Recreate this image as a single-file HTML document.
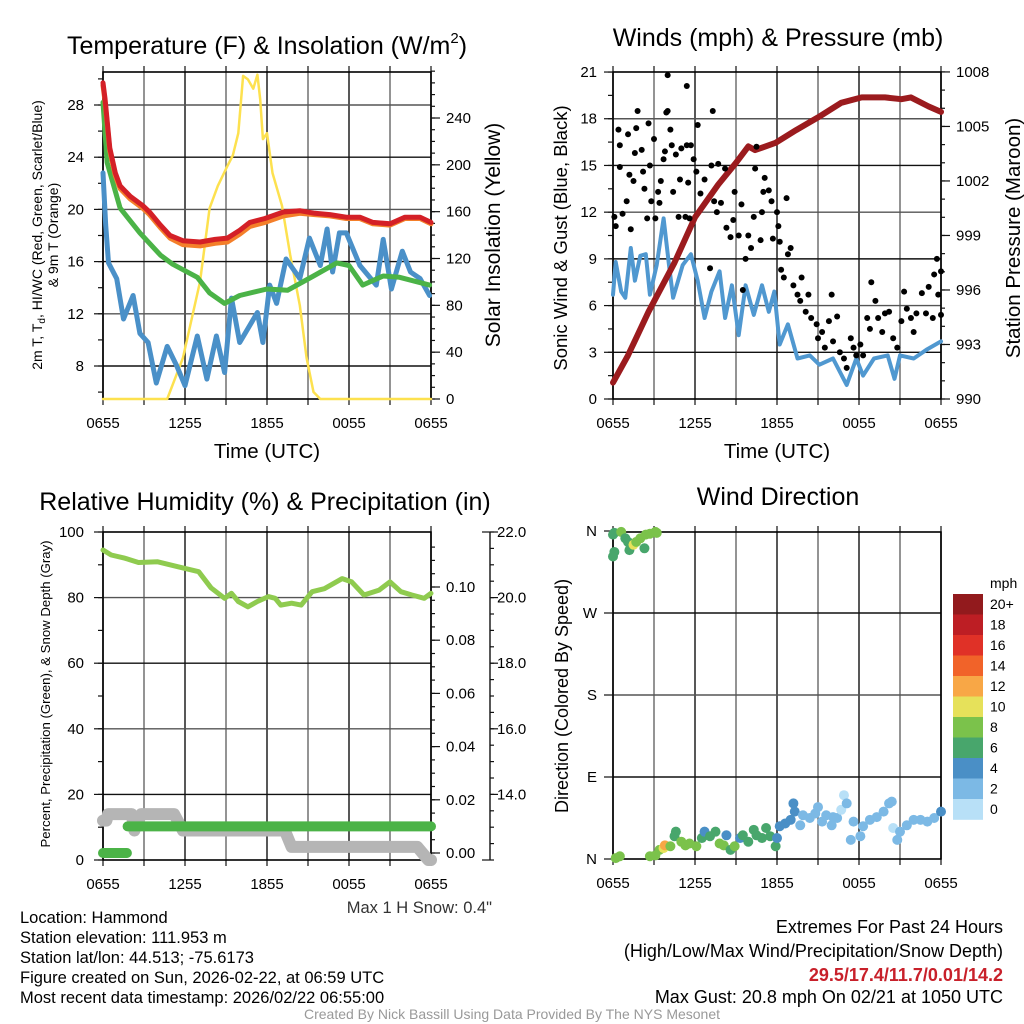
<!DOCTYPE html>
<html><head><meta charset="utf-8"><title>NYS Mesonet Meteogram - Hammond</title>
<style>
html,body{margin:0;padding:0;background:#fff;}
body{width:1024px;height:1024px;overflow:hidden;}
svg{display:block;font-family:"Liberation Sans",Arial,sans-serif;}
</style></head>
<body>
<svg id="fig" width="1024" height="1024" viewBox="0 0 1024 1024" xmlns="http://www.w3.org/2000/svg">
<rect x="0" y="0" width="1024" height="1024" fill="#fff"/>
<g id="layers"></g>

<!-- Panel 1 text -->
<text x="267" y="54" font-size="25" text-anchor="middle">Temperature (F) &amp; Insolation (W/m<tspan font-size="15" dy="-11">2</tspan><tspan dy="11">)</tspan></text>
<text x="267" y="458" font-size="20.5" text-anchor="middle">Time (UTC)</text>
<text transform="translate(42,235) rotate(-90)" font-size="14" text-anchor="middle">2m T, T<tspan font-size="10" dy="3">d</tspan><tspan dy="-3">, HI/WC (Red, Green, Scarlet/Blue)</tspan></text>
<text transform="translate(58,235) rotate(-90)" font-size="14" text-anchor="middle">&amp; 9m T (Orange)</text>
<text transform="translate(500,235) rotate(-90)" font-size="21" text-anchor="middle">Solar Insolation (Yellow)</text>

<!-- Panel 2 text -->
<text x="778" y="46" font-size="25" text-anchor="middle">Winds (mph) &amp; Pressure (mb)</text>
<text x="777" y="458" font-size="20.5" text-anchor="middle">Time (UTC)</text>
<text transform="translate(567,238) rotate(-90)" font-size="18.5" text-anchor="middle">Sonic Wind &amp; Gust (Blue, Black)</text>
<text transform="translate(1020,238) rotate(-90)" font-size="20.5" text-anchor="middle">Station Pressure (Maroon)</text>

<!-- Panel 3 text -->
<text x="265" y="510" font-size="25" text-anchor="middle">Relative Humidity (%) &amp; Precipitation (in)</text>
<text transform="translate(50,694) rotate(-90)" font-size="13.2" text-anchor="middle">Percent, Precipitation (Green), &amp; Snow Depth (Gray)</text>
<text x="492" y="913" font-size="16.5" text-anchor="end" fill="#333">Max 1 H Snow: 0.4"</text>

<!-- Panel 4 text -->
<text x="778" y="505" font-size="25" text-anchor="middle">Wind Direction</text>
<text transform="translate(568,696) rotate(-90)" font-size="18" text-anchor="middle">Direction (Colored By Speed)</text>
<text x="990" y="588" font-size="14">mph</text>

<!-- Footer -->
<g font-size="16.5">
<text x="20" y="923">Location: Hammond</text>
<text x="20" y="943">Station elevation: 111.953 m</text>
<text x="20" y="963">Station lat/lon: 44.513; -75.6173</text>
<text x="20" y="983">Figure created on Sun, 2026-02-22, at 06:59 UTC</text>
<text x="20" y="1003">Most recent data timestamp: 2026/02/22 06:55:00</text>
</g>
<g font-size="18" text-anchor="end">
<text x="1003" y="933">Extremes For Past 24 Hours</text>
<text x="1003" y="957">(High/Low/Max Wind/Precipitation/Snow Depth)</text>
<text x="1003" y="981" font-weight="bold" fill="#c8202a">29.5/17.4/11.7/0.01/14.2</text>
<text x="1003" y="1003">Max Gust: 20.8 mph On 02/21 at 1050 UTC</text>
</g>
<text x="512" y="1019" font-size="14" text-anchor="middle" fill="#999">Created By Nick Bassill Using Data Provided By The NYS Mesonet</text>
</svg>

<script>
// ===== Data =====
const timeLabels = ['0655','1255','1855','0055','0655'];
// Panel 1: temperatures (F) vs hours since 0655
const tH   = [0,0.15,0.5,0.9,1.25,2,2.9,3.4,4.2,4.9,5.85,7.1,8.2,9.1,10,10.75,11.85,13.2,14.4,15.5,16.6,17.8,18.8,19.75,21,22.1,23.2,24];
const tRed = [29.7,28.5,24.7,22.8,21.8,21.0,20.3,19.8,18.8,18.0,17.6,17.5,17.7,17.8,18.4,19.0,19.3,19.8,19.9,19.7,19.6,19.4,19.4,19.0,18.9,19.4,19.4,19.0];
const tOrg = [29.5,28.3,24.5,22.6,21.6,20.8,20.1,19.6,18.6,17.8,17.3,17.2,17.4,17.5,18.1,18.7,19.0,19.5,19.7,19.6,19.5,19.3,19.3,18.9,18.8,19.3,19.3,18.9];
const tdH  = [0,0.3,1.25,2.7,4.2,5.1,6.9,7.8,8.9,10,12,13.5,15.4,17.1,18,19,20.5,21.7,23.9];
const tdV  = [28.2,23.6,20.1,18.2,16.5,15.8,14.8,13.6,12.8,13.4,13.9,13.8,14.9,15.9,15.7,14.2,14.9,14.8,14.2];
const wcH  = [0,0.2,0.4,1,1.5,2.2,2.7,3.3,3.9,4.7,5.4,6,6.9,7.6,8.3,8.9,9.4,10,11.3,11.7,12.2,12.7,13.4,14.4,15.1,15.9,16.4,16.8,17.3,17.8,18.8,20,20.5,21.1,21.9,22.5,23.2,23.9];
const wcV  = [22.8,18.8,15.9,14.7,11.6,13.4,10.5,9.8,6.7,9.5,8.0,6.5,10.3,7.0,10.3,7.5,13.2,9.8,12.1,9.8,14.2,12.8,16.2,14.7,17.8,15.7,18.5,15.2,18.2,18.2,15.7,14.2,17.7,13.9,16.8,15.2,14.7,13.4];
const solH = [0,4.7,5.85,7.1,7.8,8.4,9.1,9.5,9.9,10.25,10.6,11,11.3,11.5,11.7,12,12.4,13.1,13.7,14.4,14.9,15.4,15.9,24];
const solV = [0,0,35,100,163,182,199,208,227,276,273,265,277,256,222,227,193,165,123,80,35,6,0,0];
// Panel 2: wind, gust, pressure
const pH = [0,1.1,2.6,4.5,6,7.7,9,9.9,10.4,11.9,13.4,15,16.7,18.2,19.9,21.1,21.8,23.1,24];
const pV = [990.9,992.4,994.8,997.5,1000,1001.8,1003,1003.9,1003.7,1004.1,1004.8,1005.5,1006.3,1006.6,1006.6,1006.5,1006.6,1006.1,1005.8];
const wH = [0,0.2,0.6,0.9,1.3,1.6,2,2.4,2.7,3.2,3.7,4.1,4.4,5.1,5.7,6.2,6.7,7.2,7.8,8.2,8.7,9.2,9.7,10.3,10.9,11.4,11.8,12.2,12.8,13.5,14.4,15.1,16.1,17.1,17.8,18.3,19.1,20.1,20.6,21,22,23,24];
const wV = [6.7,8.8,6.9,6.5,9.7,7.6,9.2,9.3,6.7,8.6,11.6,8.6,6.5,8.6,9.3,7.6,5.2,6.9,8.2,5.2,7.3,4.1,7.3,5.4,7.3,5.6,6.9,3.5,4.8,2.6,2.8,2.2,2.6,0.9,2.6,1.5,2.6,2.8,1.3,2.8,2.6,3.2,3.7];
const gH = [0.1,0.2,0.4,0.5,0.5,0.7,1,1.1,1.2,1.3,1.5,1.6,1.7,1.8,2.1,2.2,2.3,2.5,2.6,2.7,2.8,3,3.1,3.3,3.4,3.5,3.7,3.8,3.9,4,4,4.2,4.3,4.4,4.6,4.8,4.9,5,5.3,5.4,5.4,5.5,5.6,5.7,5.9,6.1,6.2,6.4,6.7,7.1,7.2,7.3,7.4,7.6,7.7,7.9,8.2,8.3,8.6,8.8,8.9,9.2,9.4,9.5,9.7,9.9,10.1,10.3,10.4,10.5,10.8,10.9,11,11.1,11.4,11.6,11.7,12,12.1,12.2,12.3,12.5,12.7,12.8,13,13.2,13.5,13.7,13.8,14.1,14.3,14.5,14.9,15,15.3,15.5,15.8,16,16.1,16.4,16.6,16.9,17.1,17.4,17.6,17.8,18.1,18.3,18.6,18.8,18.9,19.2,19.4,19.7,19.9,20.2,20.5,20.8,21.1,21.3,21.5,21.8,22,22.2,22.6,22.9,23.1,23.4,23.5,23.7,23.8,24,24];
const gV = [11.7,11.1,17.3,16.3,14.9,11.9,12.7,17.0,14.4,10.9,14.0,15.8,17.4,18.5,16.0,14.6,13.5,11.6,17.7,15.0,12.7,16.7,11.6,13.3,12.6,14.0,15.4,15.9,18.4,18.5,20.8,17.3,16.3,13.3,15.7,11.7,14.1,16.1,11.7,16.3,20.1,13.9,11.6,16.3,15.4,14.6,17.6,13.2,14.1,8.4,15.0,18.5,12.7,12.0,15.1,12.6,14.8,11.0,10.4,11.5,13.3,10.5,12.5,7.0,9.0,10.5,9.7,11.7,14.8,16.2,10.2,12.0,13.3,14.2,13.4,12.7,10.3,12.0,11.1,10.1,8.3,7.8,12.9,9.3,9.7,7.3,6.7,6.3,7.8,5.6,6.7,5.2,4.8,3.9,4.3,3.3,5.0,6.7,3.7,5.3,3.0,2.6,2.0,3.9,3.3,2.8,3.5,2.8,5.2,4.5,7.5,6.3,5.2,4.3,5.5,5.6,3.9,3.3,5.0,6.9,5.8,5.2,4.3,5.5,6.8,5.5,7.2,5.2,8.0,9.0,6.7,8.2,5.4];
// Panel 3: RH, precipitation, snow depth
const rhH = [0,0.6,1.6,2.6,4,5.5,7,7.9,8.9,9.4,9.9,10.6,11.3,12.1,12.6,13,13.8,14.5,15.3,16.2,17.5,18.2,19.1,20.2,21,21.8,22.6,23.5,24];
const rhV = [94.5,93,92,90.7,90.9,89.4,87.9,83,79.8,81.3,78.8,77.2,78.8,80.3,79.8,77.7,78.3,77.7,81.8,82.7,85.8,84.8,80.8,82.3,84.8,81.8,80.8,79.8,81.3];
const prH = [0,1.75,1.8,24];
const prV = [0,0,0.01,0.01];
const snH = [0,0.25,0.37,2.1,2.3,2.8,5.2,5.85,13.3,13.8,23,23.8,24];
const snV = [13.2,13.2,13.4,13.4,12.9,13.4,13.4,12.9,12.9,12.4,12.4,12.0,12.0];
const rhTicks = [0,20,40,60,80,100];
const prTicks = [0,0.02,0.04,0.06,0.08,0.10];
const snTicks = [14,16,18,20,22];
// Panel 4: direction colored by speed
const dH = [0,0.1,0,0.1,0.6,0.9,1.1,1.2,1.5,1.7,2,2.3,2.4,2.7,3.1,3.2,
 0.2,0.5,2.7,3.1,3.4,3.7,3.8,4.2,4.5,4.6,5,5.3,5.6,6.1,6.5,6.7,7.1,7.5,7.8,8.1,8.3,8.6,8.9,9.3,9.5,9.9,10.3,10.5,10.9,11.2,11.5,11.9,12,12.2,12.6,13,13.2,13.3,13.7,13.9,14.4,14.8,15,15.3,15.6,16,16.1,16.4,16.7,16.9,17.1,17.4,17.6,18.1,18.3,18.8,19.3,19.8,20.2,20.4,20.5,20.8,21,21.5,22,22.5,23,23.5,24];
const dDir = [356,358,332,337,359,352,348,339,345,348,352,341,356,357,359,358,
 1,3,3,4,10,12,15,14,25,30,19,15,17,14,23,30,25,30,17,15,26,10,14,23,26,19,32,26,23,34,25,14,23,36,39,43,61,52,37,48,45,50,57,41,48,37,46,45,54,70,61,21,41,25,36,43,46,52,61,63,34,21,30,37,43,43,41,45,52];
const dSpd = [6.5,7,6.5,6.5,8.5,6.5,6.5,6.5,10.5,8.5,8.5,6.5,8.5,8.5,8.5,8.5,
 8.5,8.5,8.5,8.5,8.5,10.5,12.5,8.5,6.5,6.5,8.5,8.5,8.5,8.5,6.5,4.5,6.5,6.5,8.5,8.5,4.5,6.5,8.5,4.5,6.5,6.5,6.5,6.5,6.5,6.5,6.5,6.5,4.5,4.5,4.5,4.5,4.5,4.5,2.5,2.5,2.5,2.5,2.5,2.5,2.5,2.5,2.5,2.5,1,1,2.5,2.5,2.5,2.5,2.5,2.5,2.5,2.5,2.5,2.5,1,2.5,2.5,2.5,2.5,2.5,2.5,2.5,4.5];
const cbLabels = ['20+','18','16','14','12','10','8','6','4','2','0'];
const cbColors = ['#921a1d','#bd1e24','#e03127','#f16329','#f8a746','#e6e15a','#7bc24b','#48a66c','#4a8fc6','#7cb9e5','#b8e0f7'];

// ===== Helpers =====
const NS = 'http://www.w3.org/2000/svg';
const root = document.getElementById('layers');
function mk(tag, parent) { const e = document.createElementNS(NS, tag); (parent || root).appendChild(e); return e; }
function set(e, o) { for (const k in o) e.setAttribute(k, o[k]); return e; }
const PW = 328;
const TICKFS = 15;
function xAt(x0, h) { return x0 + h * PW / 24; }
function line(g, x1, y1, x2, y2, stroke, w) { const l = mk('line', g); set(l, {x1:x1, y1:y1, x2:x2, y2:y2, stroke:stroke, 'stroke-width':w}); return l; }
function txt(g, x, y, s, anchor, size) { const t = mk('text', g); set(t, {x:x, y:y, 'font-size':size || TICKFS, 'text-anchor':anchor || 'start'}); t.textContent = s; return t; }
function poly(g, xs, ys, stroke, w) {
  const p = mk('polyline', g);
  set(p, {points: xs.map((x, i) => x.toFixed(1) + ',' + ys[i].toFixed(1)).join(' '), fill:'none', stroke:stroke, 'stroke-width':w, 'stroke-linejoin':'round', 'stroke-linecap':'round'});
  return p;
}

function frame(x0, y0, y1, name, hGrid) {
  const g = mk('g');
  
  
  for (let h = 0; h <= 24; h += 3) {
    const x = xAt(x0, h);
    const gl = line(g, x, y0, x, y1, (h % 6 === 0) ? '#111' : '#666', 1.4);
    
    
    const tb = line(g, x, y1, x, y1 + 6, '#111', 1.2);
    
    
    const tt = line(g, x, y0, x, y0 - 6, '#111', 1.2);
    
    
  }
  hGrid.forEach((y, i) => {
    const hl = line(g, x0, y, x0 + PW, y, (i % 2 === 0) ? '#111' : '#555', 1.4);
    
    
  });
  const r = mk('rect', g);
  set(r, {x:x0, y:y0, width:PW, height:y1 - y0, fill:'none', stroke:'#000', 'stroke-width':1.6});
  
  
  timeLabels.forEach((s, i) => {
    const t = txt(g, xAt(x0, i * 6), y1 + 29, s, 'middle', TICKFS);
    
    
  });
  return g;
}
function yTicks(g, x, ys, dir, len, name) {
  ys.forEach(y => {
    const t = line(g, x, y, x + dir * len, y, '#111', 1.2);
    
    
  });
}

// ===== Panel 1: Temperature & insolation =====
const yT = t => 105 + (28 - t) * 13.05;
const yS = s => 399 - s * 1.1708;
{
  const grid = [8,12,16,20,24,28].map(yT);
  const g = frame(103, 72, 399, 'temperature', grid);
  const mj = [8,12,16,20,24,28], mn = [];
  for (let t = 6; t <= 30; t += 2) if (yT(t) >= 72 && yT(t) <= 399) mn.push(yT(t));
  yTicks(g, 103, mn, -1, 5, 'temperature-minor-tick');
  yTicks(g, 103, mj.map(yT), -1, 9, 'temperature-major-tick');
  mj.forEach(t => { const l = txt(g, 84, yT(t) + 5, String(t), 'end');
    
     });
  const sm = [];
  for (let s = 0; s <= 280; s += 10) sm.push(yS(s));
  yTicks(g, 431, sm, 1, 4, 'insolation-minor-tick');
  [0,40,80,120,160,200,240].forEach(s => {
    yTicks(g, 431, [yS(s)], 1, 9, 'insolation-major-tick');
    const l = txt(g, 446, yS(s) + 5, String(s), 'start');
    
    
  });
  const s1 = poly(root, solH.map(h => xAt(103, h)), solV.map(yS), '#fde14f', 2.5);
  
  
  const s2 = poly(root, wcH.map(h => xAt(103, h)), wcV.map(yT), '#4a90c8', 5);
  
  
  const s3 = poly(root, tdH.map(h => xAt(103, h)), tdV.map(yT), '#4bb347', 5);
  
  
  const s4 = poly(root, tH.map(h => xAt(103, h)), tOrg.map(yT), '#f47f2a', 5);
  
  
  const s5 = poly(root, tH.map(h => xAt(103, h)), tRed.map(yT), '#d42027', 5);
  
  
}

// ===== Panel 2: Winds & pressure =====
const yW = w => 399 - w * 15.57;
const yP = p => 399 - (p - 990) * 18.17;
{
  const grid = [3,6,9,12,15,18].map(yW);
  const g = frame(613, 72, 399, 'winds', grid);
  const mn = [];
  for (let w = 0; w <= 21; w += 1.5) mn.push(yW(w));
  yTicks(g, 613, mn, -1, 5, 'wind-minor-tick');
  [0,3,6,9,12,15,18,21].forEach(w => {
    yTicks(g, 613, [yW(w)], -1, 9, 'wind-major-tick');
    const l = txt(g, 597, yW(w) + 5, String(w), 'end');
    
    
  });
  const pm = [];
  for (let p = 990; p <= 1008; p += 1) pm.push(yP(p));
  yTicks(g, 941, pm, 1, 4, 'pressure-minor-tick');
  [990,993,996,999,1002,1005,1008].forEach(p => {
    yTicks(g, 941, [yP(p)], 1, 9, 'pressure-major-tick');
    const l = txt(g, 956, yP(p) + 5, String(p), 'start');
    
    
  });
  const w1 = poly(root, wH.map(h => xAt(613, h)), wV.map(yW), '#5098d0', 4);
  
  
  const p1 = poly(root, pH.map(h => xAt(613, h)), pV.map(yP), '#9b1b1e', 6);
  
  
  const gg = mk('g');
  
  
  gH.forEach((h, i) => {
    const c = mk('circle', gg);
    set(c, {cx: xAt(613, h), cy: yW(gV[i]), r: 3, fill: '#000'});
    
    
  });
}

// ===== Panel 3: RH, precip, snow =====
const yRH = r => 860 - r * 3.28;
const yPr = p => 853 - p * 2660;
const ySn = s => 860 - (s - 12) * 32.8;
{
  const grid = [20,40,60,80].map(yRH);
  const g = frame(103, 532, 860, 'humidity', grid);
  const mn = [];
  for (let r = 0; r <= 100; r += 10) mn.push(yRH(r));
  yTicks(g, 103, mn, -1, 5, 'humidity-minor-tick');
  rhTicks.forEach(r => {
    yTicks(g, 103, [yRH(r)], -1, 9, 'humidity-major-tick');
    const l = txt(g, 84, yRH(r) + 5, String(r), 'end');
    
    
  });
  const pm = [];
  for (let p = 0; p <= 0.12; p += 0.005) pm.push(yPr(p));
  yTicks(g, 431, pm.filter(y => y >= 532), 1, 4, 'precip-minor-tick');
  prTicks.forEach(p => {
    yTicks(g, 431, [yPr(p)], 1, 9, 'precip-major-tick');
    const l = txt(g, 446, yPr(p) + 5, p.toFixed(2), 'start');
    
    
  });
  const ax = line(g, 490, 532, 490, 860, '#111', 1.4);
  
  
  const sm = [];
  for (let s = 12; s <= 22; s += 0.5) sm.push(ySn(s));
  yTicks(g, 490, sm, 1, 4, 'snow-minor-tick');
  yTicks(g, 490, [532, 860], -1, 8, 'snow-end-tick');
  snTicks.forEach(s => {
    yTicks(g, 490, [ySn(s)], 1, 8, 'snow-major-tick');
    const l = txt(g, 497, ySn(s) + 5, s.toFixed(1), 'start');
    
    
  });
  const sn = poly(root, snH.map(h => xAt(103, h)), snV.map(ySn), '#b5b5b5', 12);
  
  
  const pr = mk('path');
  let d = '';
  prH.forEach((h, i) => {
    if (i > 0 && prV[i] !== prV[i - 1]) d += ' M' + xAt(103, h).toFixed(1) + ',' + yPr(prV[i]).toFixed(1);
    else d += (i === 0 ? 'M' : ' L') + xAt(103, h).toFixed(1) + ',' + yPr(prV[i]).toFixed(1);
  });
  set(pr, {d: d, fill:'none', stroke:'#4bb347', 'stroke-width':10, 'stroke-linecap':'round'});
  
  
  const rh = poly(root, rhH.map(h => xAt(103, h)), rhV.map(yRH), '#8fcb4f', 5);
  
  
}

// ===== Panel 4: Wind direction =====
const yD = d => 859 - d * 82 / 90;
{
  const grid = [90,180,270].map(yD);
  const g = frame(613, 532, 859, 'direction', grid);
  [['N',0],['E',90],['S',180],['W',270],['N',360]].forEach(([s, d]) => {
    yTicks(g, 613, [yD(d)], -1, 9, 'direction-major-tick');
    const l = txt(g, 597, yD(d) + 5, s, 'end');
    
    
  });
  const pg = mk('g');
  
  
  dH.forEach((h, i) => {
    const bin = Math.min(10, Math.floor(dSpd[i] / 2));
    const c = mk('circle', pg);
    set(c, {cx: xAt(613, h), cy: yD(dDir[i]), r: 5, fill: cbColors[10 - bin]});
    
    
  });
  const cb = mk('g');
  
  
  cbColors.forEach((col, i) => {
    const r = mk('rect', cb);
    set(r, {x:953, y:594 + i * 20.5, width:30, height:20.8, fill:col});
    
    
    const t = txt(cb, 990, 594 + i * 20.5 + 15, cbLabels[i], 'start', 14);
    
    
  });
}
</script>
</body></html>
